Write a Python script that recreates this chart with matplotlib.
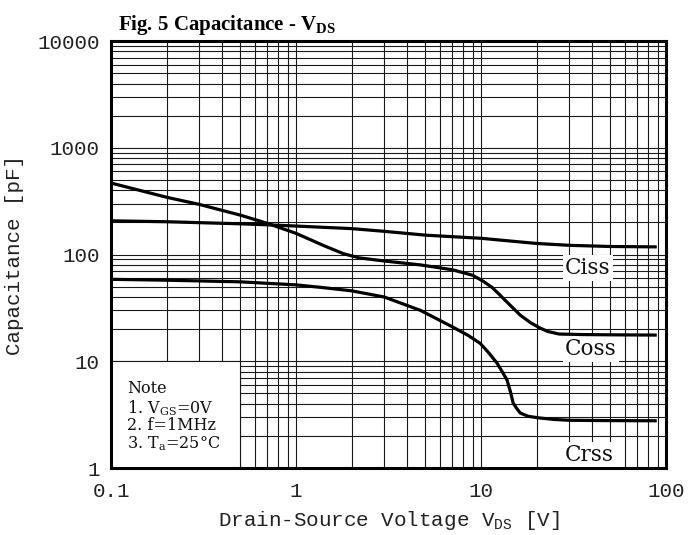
import numpy as np
import matplotlib.pyplot as plt
from matplotlib.patches import Rectangle

plt.rcParams['font.family'] = ['Liberation Mono', 'DejaVu Sans Mono']
plt.rcParams['mathtext.fontset'] = 'custom'
plt.rcParams['mathtext.rm'] = 'Liberation Mono'
plt.rcParams['mathtext.sf'] = 'DejaVu Serif'
plt.rcParams['mathtext.bf'] = 'Liberation Serif:bold'

ciss_v = [0.1, 0.2, 0.3, 0.5, 0.7, 1, 1.4, 2, 3, 5, 7, 10, 15, 20, 30, 50, 89]
ciss_c = [207, 203, 199, 194, 190, 185, 180, 175, 165, 152, 147, 142, 133, 127, 122, 119, 118]

coss_v = [0.1, 0.2, 0.3, 0.5, 0.7, 1, 1.4, 1.8, 2.2, 3, 4.7, 7, 9, 10.3, 11.5,
          12.6, 14, 16.3, 18.5, 20.8, 23, 26.4, 35, 50, 89]
coss_c = [468, 344, 295, 234, 196, 158, 122, 102, 93, 87, 80, 72, 64, 56, 49,
          42, 35, 27, 23, 20.5, 19, 18, 17.8, 17.7, 17.6]

crss_v = [0.1, 0.2, 0.5, 1, 1.4, 2, 3, 4.7, 7, 8.5, 9.9, 11, 12.2, 13, 13.8, 14.4,
          14.9, 15.6, 16.3, 18, 20.8, 25, 30, 50, 89]
crss_c = [58.6, 57.5, 55.5, 52, 49, 45.7, 40, 30, 21, 17.5, 14.7, 12, 9.6, 8, 6.7, 5.2,
          4.07, 3.6, 3.27, 3.05, 2.94, 2.85, 2.8, 2.78, 2.77]

x_ticks = [0.1, 1, 10, 100]
x_labels = ["0.1", "1", "10", "100"]
y_ticks = [1, 10, 100, 1000, 10000]
y_labels = ["1", "10", "100", "1000", "10000"]

note_lines = ["Note", "1. V$_{\\mathsf{GS}}$=0V", "2. f=1MHz", "3. T$_{\\mathsf{a}}$=25\u00b0C"]
note_y = [0.1756, 0.1288, 0.0890, 0.0468]

fig = plt.figure(figsize=(7, 5.35), dpi=100)
ax = fig.add_axes([0.1586, 0.1252, 0.793, 0.798])

ax.set_xscale('log')
ax.set_yscale('log')
ax.set_xlim(0.1, 100)
ax.set_ylim(1, 10000)

ax.grid(True, which='both', color='#1a1a1a', linewidth=0.8, zorder=0)
ax.set_axisbelow(True)

# blank area for the note
ax.add_patch(Rectangle((0.1, 1), 0.4, 9, facecolor='white', edgecolor='#1a1a1a',
                       linewidth=0.8, zorder=1))

for v, c in [(ciss_v, ciss_c), (coss_v, coss_c), (crss_v, crss_c)]:
    ax.plot(v, c, color='black', linewidth=2.3, zorder=3, solid_capstyle='butt')

box = dict(facecolor='white', edgecolor='none', pad=1.5)
for lbl, yv in [("Ciss", 75), ("Coss", 13.0), ("Crss", 1.32)]:
    ax.text(28.4, yv, lbl, fontsize=15.5, family='DejaVu Serif', va='center', ha='left',
            bbox=box, zorder=2, color='#111111')

for line, yy in zip(note_lines, note_y):
    ax.text(0.029, yy, line, transform=ax.transAxes, fontsize=11.5, family='DejaVu Serif',
            va='baseline', ha='left', zorder=4, color='#111111')

ax.set_xticks(x_ticks)
ax.set_xticklabels(x_labels)
ax.set_yticks(y_ticks)
ax.set_yticklabels(y_labels)
ax.tick_params(which='both', length=0, labelsize=15, pad=8, colors='#222222')
ax.tick_params(axis='x', pad=10)

for s in ax.spines.values():
    s.set_linewidth(2.2)
    s.set_color('black')
    s.set_zorder(5)

ax.set_xlabel("Drain-Source Voltage V$_{\\rm DS}$ [V]", fontsize=15, labelpad=6, color='#222222')
ax.set_ylabel("Capacitance [pF]", fontsize=15, labelpad=10, color='#222222')

fig.text(118 / 700, 1 - 30 / 535, "Fig. 5 Capacitance - V$_{\\mathbf{DS}}$",
         fontsize=15, fontweight='bold', family='Liberation Serif', va='baseline', ha='left')

fig.savefig("out.png", dpi=100)
